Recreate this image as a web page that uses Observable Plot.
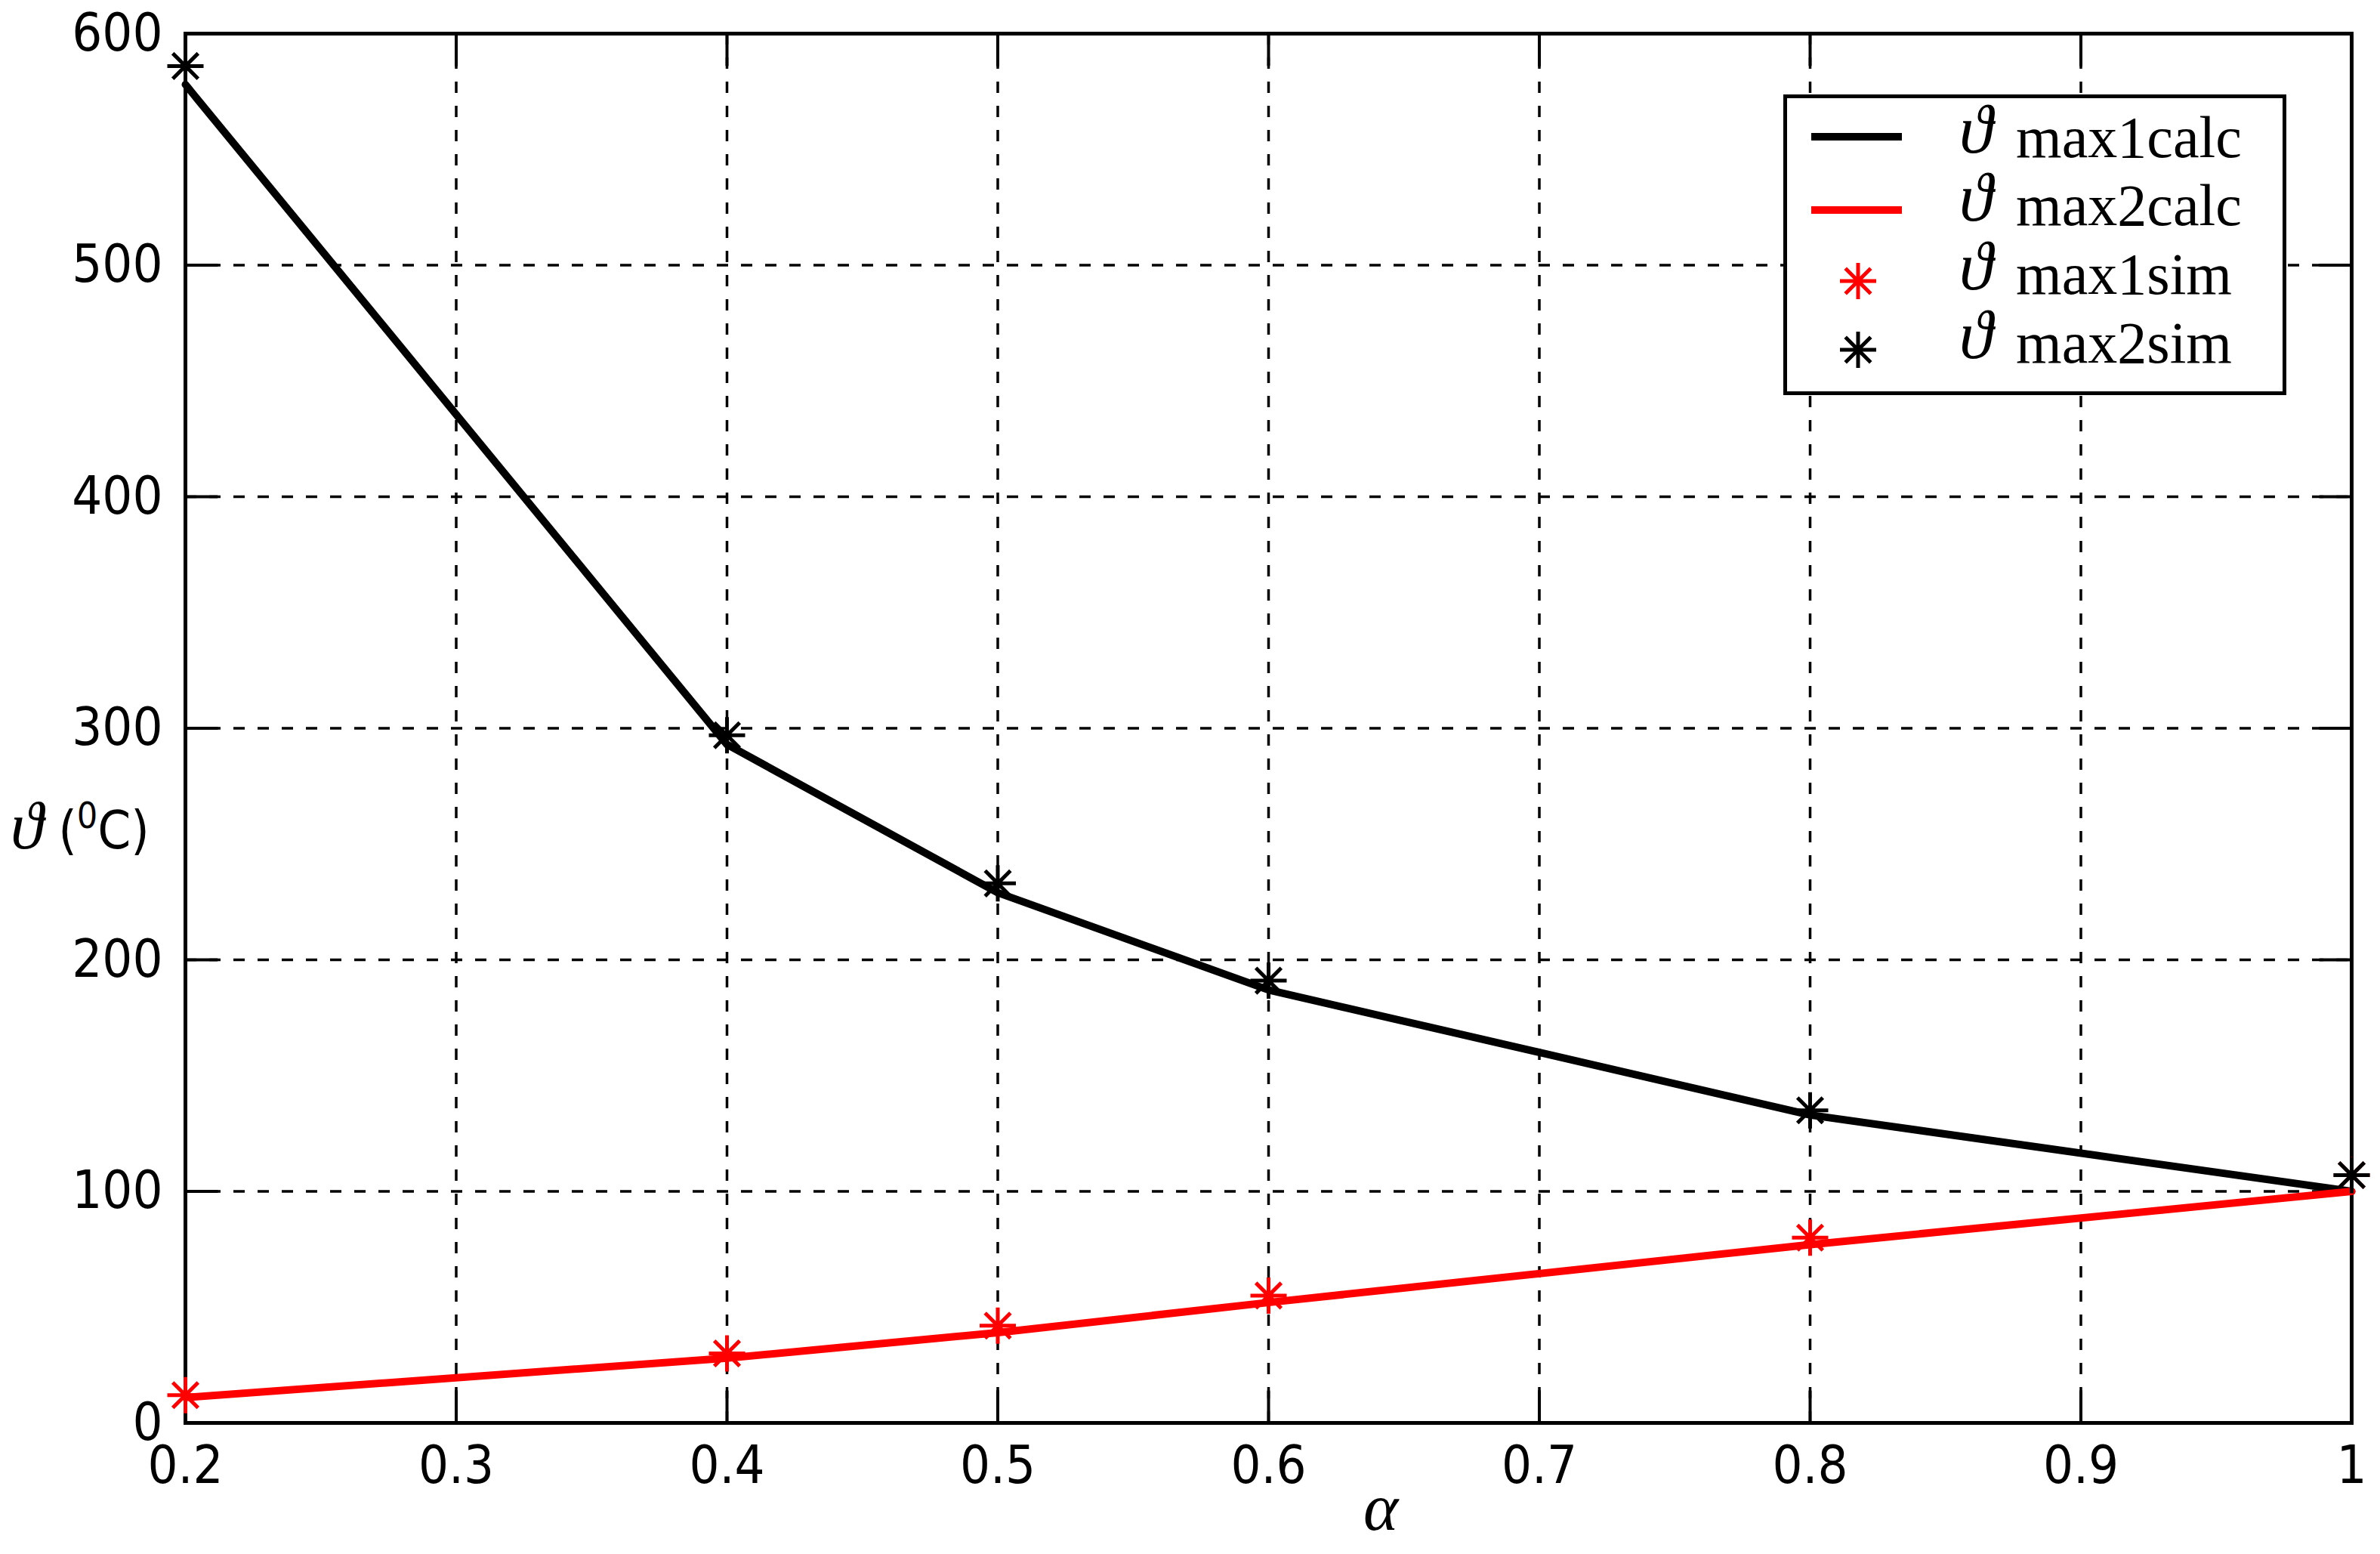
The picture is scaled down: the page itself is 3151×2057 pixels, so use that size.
<!DOCTYPE html>
<html><head><meta charset="utf-8">
<script src="https://cdn.jsdelivr.net/npm/d3@7"></script>
<script src="https://cdn.jsdelivr.net/npm/@observablehq/plot@0.6"></script>
<style>
html,body{margin:0;padding:0;background:#fff;}
#chart svg{display:block}
</style></head><body><div id="chart"></div>
<script>
// ---- data ----
const alpha = [0.2, 0.4, 0.5, 0.6, 0.8, 1.0];
const max1calc = [578, 293, 229, 187, 133, 100];
const max2calc = [11, 28, 39, 52, 77, 100];
const max1sim = [12, 30, 42, 55, 80, 107];
const max2sim = [586, 297, 233, 191, 135, 107];
const xTicks = [0.2, 0.3, 0.4, 0.5, 0.6, 0.7, 0.8, 0.9, 1];
const yTicks = [0, 100, 200, 300, 400, 500, 600];
const legendNames = ["max1calc", "max2calc", "max1sim", "max2sim"];
const legendColors = ["#000000", "#ff0000", "#ff0000", "#000000"];
const legendKinds = ["line", "line", "star", "star"];

const rows = alpha.map((a, i) => ({a, c1: max1calc[i], c2: max2calc[i], s1: max1sim[i], s2: max2sim[i]}));

const W = 3151, H = 2057;
const sansFont = "'Liberation Sans Narrow','DejaVu Sans Condensed','Liberation Sans',Arial,sans-serif";
const serifFont = "'Liberation Serif','DejaVu Serif',serif";

function drawAsterisk(ctx, r) {
  const d = r * 0.7;
  ctx.moveTo(-r, 0); ctx.lineTo(r, 0);
  ctx.moveTo(0, -r); ctx.lineTo(0, r);
  ctx.moveTo(-d, -d); ctx.lineTo(d, d);
  ctx.moveTo(-d, d); ctx.lineTo(d, -d);
}
const asterisk = {draw(ctx, size) { drawAsterisk(ctx, Math.sqrt(size / Math.PI)); }};
const tickShape = {draw(ctx, l) { ctx.moveTo(0, 0); ctx.lineTo(0, -l); }};

const gridStyle = {stroke: "#000", strokeOpacity: 1, strokeWidth: 3.5, strokeDasharray: "15,17"};
const tickStyle = {shape: tickShape, anchor: "start", length: 42, stroke: "#000", strokeWidth: 4};

const plot = Plot.plot({
  width: W, height: H,
  marginLeft: 245, marginRight: 38, marginTop: 44, marginBottom: 174,
  style: {fontSize: "70px", fontFamily: sansFont, color: "#000", background: "#fff"},
  x: {domain: [0.2, 1]},
  y: {domain: [0, 600]},
  marks: [
    Plot.gridX(xTicks, gridStyle),
    Plot.gridY(yTicks, gridStyle),
    Plot.axisX(xTicks, {tickSize: 0, tickPadding: 30, tickFormat: d => String(d), label: null}),
    Plot.axisY(yTicks, {tickSize: 0, tickPadding: 30, tickFormat: d => String(d), label: null}),
    Plot.vector(xTicks, {x: d => d, frameAnchor: "bottom", rotate: 0, ...tickStyle}),
    Plot.vector(xTicks, {x: d => d, frameAnchor: "top", rotate: 180, ...tickStyle}),
    Plot.vector(yTicks, {y: d => d, frameAnchor: "left", rotate: 90, ...tickStyle}),
    Plot.vector(yTicks, {y: d => d, frameAnchor: "right", rotate: -90, ...tickStyle}),
    Plot.frame({stroke: "#000", strokeWidth: 5}),
    Plot.line(rows, {x: "a", y: "c1", stroke: "#000", strokeWidth: 10}),
    Plot.line(rows, {x: "a", y: "c2", stroke: "#ff0000", strokeWidth: 10}),
    Plot.dot(rows, {x: "a", y: "s1", symbol: asterisk, r: 24, fill: "none", stroke: "#ff0000", strokeWidth: 5}),
    Plot.dot(rows, {x: "a", y: "s2", symbol: asterisk, r: 24, fill: "none", stroke: "#000", strokeWidth: 5})
  ]
});
document.getElementById("chart").appendChild(plot);

// ---- labels and legend added into the same SVG ----
const svg = d3.select(plot);
const g = svg.append("g").attr("text-anchor", "start");

// y label: ϑ (⁰C)
const yl = g.append("text").attr("x", 14).attr("y", 1123).attr("text-anchor", "start")
  .attr("font-family", sansFont).attr("font-size", 70).attr("fill", "#000");
yl.append("tspan").attr("font-family", serifFont).attr("font-style", "italic").attr("font-size", 88).text("ϑ");
yl.append("tspan").text(" (");
yl.append("tspan").attr("font-size", 48).attr("dy", -27).text("0");
yl.append("tspan").attr("dy", 27).text("C)");

// x label: α
g.append("text").attr("x", 1828).attr("y", 2025).attr("text-anchor", "middle")
  .attr("font-family", serifFont).attr("font-style", "italic").attr("font-size", 88)
  .attr("fill", "#000").text("α");

// legend
const L = {x: 2361, y: 125, w: 666, h: 398};
g.append("rect").attr("x", L.x + 2.5).attr("y", L.y + 2.5).attr("width", L.w - 5).attr("height", L.h - 5)
  .attr("fill", "#fff").attr("stroke", "#000").attr("stroke-width", 5);
const rowSym = [181, 278, 372, 463];
const rowBase = [208, 298, 389, 480];
legendNames.forEach((name, i) => {
  if (legendKinds[i] === "line") {
    g.append("line").attr("x1", 2398).attr("x2", 2518).attr("y1", rowSym[i]).attr("y2", rowSym[i])
      .attr("stroke", legendColors[i]).attr("stroke-width", 10);
  } else {
    const p = d3.path();
    drawAsterisk(p, 24);
    g.append("path").attr("d", p.toString()).attr("transform", `translate(2460,${rowSym[i]})`)
      .attr("fill", "none").attr("stroke", legendColors[i]).attr("stroke-width", 5);
  }
  g.append("text").attr("x", 2594).attr("y", rowBase[i] - 6).attr("text-anchor", "start")
    .attr("font-family", serifFont).attr("font-style", "italic").attr("font-size", 90).attr("fill", "#000").text("ϑ");
  g.append("text").attr("x", 2669).attr("y", rowBase[i]).attr("text-anchor", "start")
    .attr("font-family", serifFont).attr("font-size", 78).attr("fill", "#000").text(name);
});
</script></body></html>
